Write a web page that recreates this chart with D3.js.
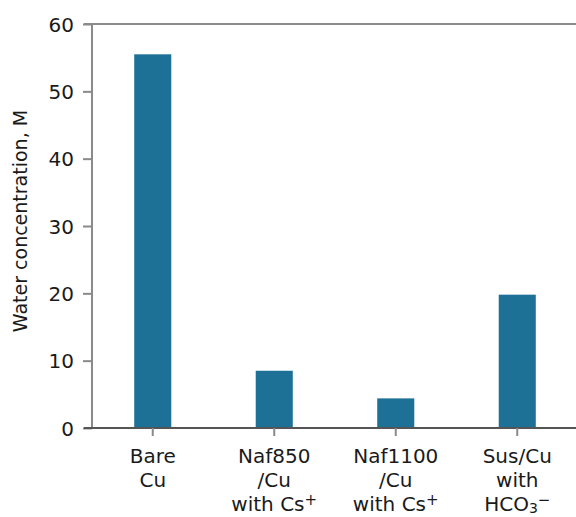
<!DOCTYPE html>
<html>
<head>
<meta charset="utf-8">
<script src="https://cdn.jsdelivr.net/npm/d3@7"></script>
<style>
  html, body { margin: 0; padding: 0; background: #fff; }
  svg { display: block; font-family: Verdana, "DejaVu Sans", sans-serif; }
</style>
</head>
<body>
<svg id="chart" width="576" height="517"></svg>
<script>
// Category labels, one array of line fragments per line
const categories = ["Bare Cu", "Naf850/Cu with Cs+", "Naf1100/Cu with Cs+", "Sus/Cu with HCO3-"];
const labelLines = [
  [[{t: "Bare"}], [{t: "Cu"}]],
  [[{t: "Naf850"}], [{t: "/Cu"}], [{t: "with Cs"}, {t: "+", sup: true}]],
  [[{t: "Naf1100"}], [{t: "/Cu"}], [{t: "with Cs"}, {t: "+", sup: true}]],
  [[{t: "Sus/Cu"}], [{t: "with"}], [{t: "HCO"}, {t: "3", sub: true}, {t: "\u2212", sup: true}]]
];
const waterConc = [55.5, 8.5, 4.4, 19.8];
const yTicks = [0, 10, 20, 30, 40, 50, 60];
const yTitle = "Water concentration, M";

const svg = d3.select("#chart");
const margin = {left: 92, right: 0, top: 24, bottom: 89};
const W = 576, H = 517;

const x = d3.scaleBand()
  .domain(categories)
  .range([margin.left, margin.left + 486])
  .paddingInner(0.695)
  .paddingOuter(0.3475);

const y = d3.scaleLinear()
  .domain([0, 60])
  .range([H - margin.bottom, margin.top]);

// top frame line
svg.append("line")
  .attr("x1", margin.left - 8).attr("x2", W)
  .attr("y1", y(60)).attr("y2", y(60))
  .attr("stroke", "#8a8a8a").attr("stroke-width", 2);

// bars
svg.append("g").selectAll("rect")
  .data(categories)
  .join("rect")
  .attr("x", d => x(d))
  .attr("width", x.bandwidth())
  .attr("y", (d, i) => y(waterConc[i]))
  .attr("height", (d, i) => y(0) - y(waterConc[i]))
  .attr("fill", "#1d7096");

// y axis
const yAxis = svg.append("g")
  .attr("transform", `translate(${margin.left},0)`)
  .call(d3.axisLeft(y).tickValues(yTicks).tickSize(9).tickPadding(9).tickFormat(d3.format("d")));
yAxis.select(".domain").attr("stroke", "#8a8a8a").attr("stroke-width", 2)
  .attr("d", `M0,${y(60)}V${y(0)}`);
yAxis.selectAll(".tick line").attr("stroke", "#8a8a8a").attr("stroke-width", 2);
yAxis.selectAll(".tick text").attr("fill", "#1a1a1a").style("font-size", "20px")
  .style("font-family", "Verdana, 'DejaVu Sans', sans-serif").attr("dy", "0.36em");

// x axis
const xAxis = svg.append("g")
  .attr("transform", `translate(0,${y(0)})`)
  .call(d3.axisBottom(x).tickSize(8).tickFormat(""));
xAxis.select(".domain").attr("stroke", "#555").attr("stroke-width", 2)
  .attr("d", `M${margin.left - 8},0H${W}`);
xAxis.selectAll(".tick line").attr("stroke", "#8a8a8a").attr("stroke-width", 2);

// multi-line category labels
const lab = svg.append("g").style("font-size", "20px").attr("fill", "#1a1a1a");
categories.forEach((c, i) => {
  const cx = x(c) + x.bandwidth() / 2;
  labelLines[i].forEach((line, j) => {
    const t = lab.append("text")
      .attr("x", cx)
      .attr("y", 463 + j * 24)
      .attr("text-anchor", "middle");
    line.forEach(part => {
      const ts = t.append("tspan").text(part.t);
      if (part.sup) ts.attr("baseline-shift", "40%").style("font-size", "15px");
      if (part.sub) ts.attr("baseline-shift", "-12%").style("font-size", "14px");
    });
  });
});

// y title
svg.append("text")
  .attr("transform", `translate(27,${(y(0) + y(60)) / 2 - 5}) rotate(-90)`)
  .attr("text-anchor", "middle")
  .attr("fill", "#1a1a1a")
  .style("font-size", "19px")
  .text(yTitle);
</script>
</body>
</html>
